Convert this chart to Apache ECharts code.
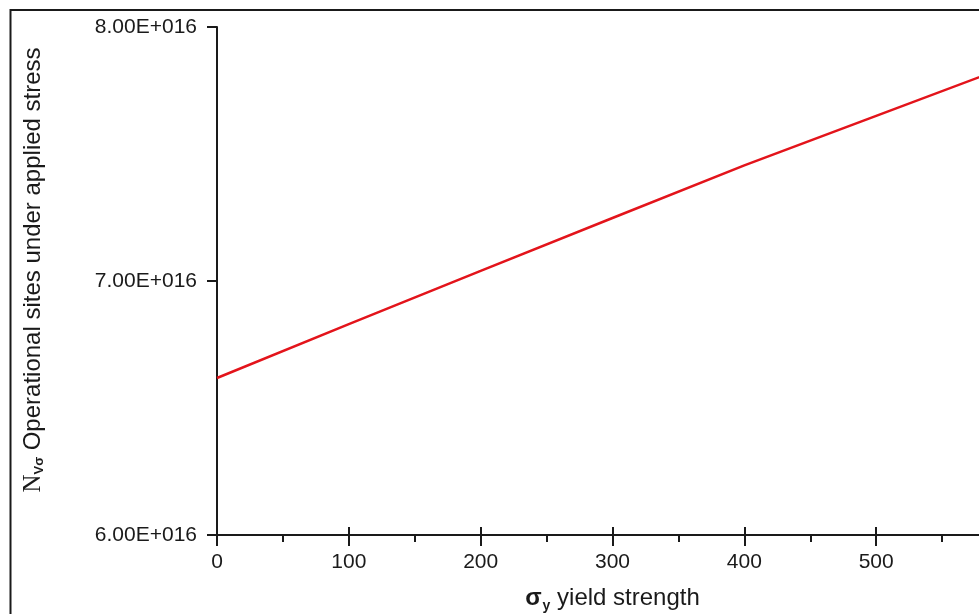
<!DOCTYPE html>
<html>
<head>
<meta charset="utf-8">
<script src="https://cdn.jsdelivr.net/npm/echarts@6/dist/echarts.min.js"></script>
<style>
  html, body { margin: 0; padding: 0; background: #ffffff; }
  #chart { width: 979px; height: 614px; }
</style>
</head>
<body>
<div id="chart"></div>
<script>
// Yield strength (x) against operational sites under applied stress (y)
const yieldStrength = [0, 100, 200, 300, 400, 500, 600];
const operationalSites = [6.618e16, 6.830e16, 7.040e16, 7.248e16, 7.455e16, 7.650e16, 7.845e16];
const xTicks = [0, 100, 200, 300, 400, 500, 600];
const yTicks = [6e16, 7e16, 8e16];

const ink = '#1a1a1a';
const font = '"Liberation Sans", Arial, sans-serif';

const chart = echarts.init(document.getElementById('chart'), null, { renderer: 'canvas' });

const fmtY = v => (v / 1e16).toFixed(2) + 'E+016';

chart.setOption({
  backgroundColor: '#ffffff',
  animation: false,
  graphic: [{
    type: 'rect',
    shape: { x: 10.5, y: 10, width: 1100, height: 800 },
    style: { fill: 'none', stroke: ink, lineWidth: 2 },
    silent: true
  }],
  grid: { left: 217, top: 27, width: 791, height: 508, containLabel: false, outerBoundsMode: 'none' },
  xAxis: [{
    type: 'value',
    min: xTicks[0],
    max: xTicks[xTicks.length - 1],
    interval: xTicks[1] - xTicks[0],
    position: 'bottom',
    axisLine: { show: true, lineStyle: { color: ink, width: 2 } },
    axisTick: { show: true, inside: false, length: 11, lineStyle: { color: ink, width: 2 } },
    minorTick: { show: true, splitNumber: 2, length: 7, lineStyle: { color: ink, width: 2 } },
    splitLine: { show: false },
    axisLabel: { show: true, margin: 17, color: ink, fontFamily: font, fontSize: 21 },
    name: '{s|σ}{sub|y}{t| yield strength}',
    nameLocation: 'middle',
    nameGap: 49,
    nameTextStyle: {
      color: ink, fontFamily: font, fontSize: 24,
      rich: {
        s: { fontFamily: font, fontSize: 24, fontWeight: 'bold', color: ink },
        sub: { fontFamily: font, fontSize: 14, fontWeight: 'bold', color: ink, padding: [15, 0, 0, 1] },
        t: { fontFamily: font, fontSize: 24, color: ink }
      }
    }
  }, {
    // inner half of the major ticks, so they cross the axis line
    type: 'value',
    min: xTicks[0],
    max: xTicks[xTicks.length - 1],
    interval: xTicks[1] - xTicks[0],
    position: 'bottom',
    offset: 0,
    axisLine: { show: false },
    axisTick: { show: true, inside: true, length: 8, lineStyle: { color: ink, width: 2 } },
    axisLabel: { show: false },
    splitLine: { show: false }
  }],
  yAxis: {
    type: 'value',
    min: yTicks[0],
    max: yTicks[yTicks.length - 1],
    interval: yTicks[1] - yTicks[0],
    axisLine: { show: true, lineStyle: { color: ink, width: 2 } },
    axisTick: { show: true, inside: false, length: 10, lineStyle: { color: ink, width: 2 } },
    splitLine: { show: false },
    axisLabel: { show: true, margin: 20, color: ink, fontFamily: font, fontSize: 21, formatter: fmtY },
    name: '{n|N}{sub|Vσ}{t| Operational sites under applied stress}',
    nameLocation: 'middle',
    nameRotate: 90,
    nameGap: 171,
    nameTextStyle: {
      color: ink, fontFamily: font, fontSize: 24,
      padding: [0, 0, 0, 22],
      rich: {
        n: { fontFamily: '"Liberation Serif", "Times New Roman", serif', fontSize: 25, color: ink },
        sub: { fontFamily: font, fontSize: 13, fontWeight: 'bold', color: ink, padding: [13, 0, 0, 0] },
        t: { fontFamily: font, fontSize: 24, color: ink }
      }
    }
  },
  series: [{
    type: 'line',
    xAxisIndex: 0,
    data: yieldStrength.map((x, i) => [x, operationalSites[i]]),
    showSymbol: false,
    smooth: false,
    lineStyle: { color: '#e3141b', width: 2.5 },
    clip: true
  }]
});
</script>
</body>
</html>
